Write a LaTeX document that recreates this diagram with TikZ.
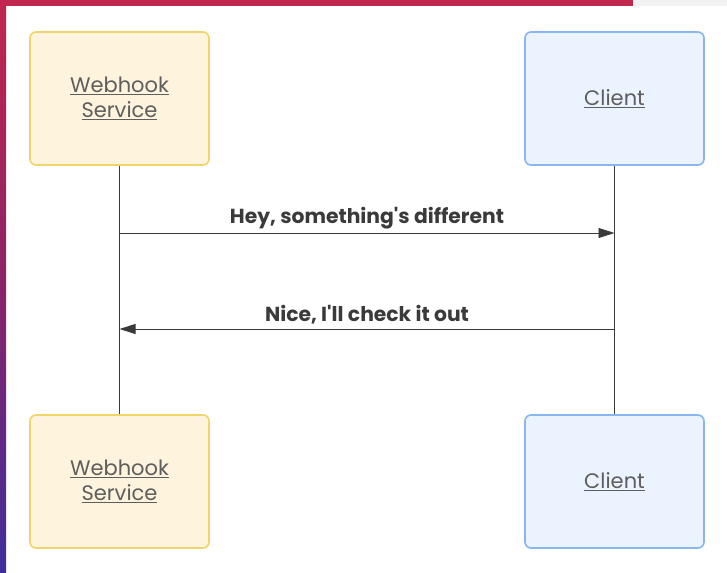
\documentclass[tikz,border=0pt]{standalone}
\usepackage{fontspec}
\setmainfont{Poppins}[Ligatures=TeXOff]
\usetikzlibrary{arrows.meta}
\definecolor{barred}{HTML}{C1264E}
\definecolor{barpurple}{HTML}{3E2E9C}
\definecolor{barmid}{HTML}{8A2468}
\definecolor{ylfill}{HTML}{FEF3DC}
\definecolor{yldraw}{HTML}{F2D56A}
\definecolor{blfill}{HTML}{EAF3FE}
\definecolor{bldraw}{HTML}{88B6EE}
\definecolor{lbl}{HTML}{5E5E5E}
\definecolor{msg}{HTML}{3A3A3A}
\definecolor{lgray}{HTML}{F2F2F2}
\tikzset{
  actor/.style={rounded corners=6pt, line width=1.6pt, minimum width=179pt, minimum height=133pt,
    inner sep=0pt, align=center, font=\fontsize{21}{25}\selectfont, text=lbl},
  ybox/.style={actor, fill=ylfill, draw=yldraw},
  bbox/.style={actor, fill=blfill, draw=bldraw},
  life/.style={draw=msg, line width=0.9pt},
  msgarrow/.style={draw=msg, line width=0.9pt, -{Triangle[length=16pt,width=10pt]}},
  msglabel/.style={font=\bfseries\fontsize{20.3}{23}\selectfont, text=msg, inner sep=0pt}
}
\begin{document}
\begin{tikzpicture}[x=1pt,y=-1pt]
\useasboundingbox (0,0) rectangle (727,572);
\fill[white] (0,0) rectangle (727,572);
\fill[barred] (0,0) rectangle (633,6);
\fill[lgray] (633,0) rectangle (727,6);
\shade[top color=barred, bottom color=barpurple, middle color=barmid] (0,0) rectangle (6,572);
\node[ybox] (ws1) at (119.5,98.5) {\underline{Webhook}\\\underline{Service}};
\node[bbox] (cl1) at (614.5,98.5) {\underline{Client}};
\node[ybox] (ws2) at (119.5,481.5) {\underline{Webhook}\\\underline{Service}};
\node[bbox] (cl2) at (614.5,481.5) {\underline{Client}};
\draw[life] (ws1.south) -- (ws2.north);
\draw[life] (cl1.south) -- (cl2.north);
\coordinate (a1s) at (ws1.south |- 0,233);
\coordinate (a1e) at (cl1.south |- 0,233);
\coordinate (a2s) at (cl1.south |- 0,329);
\coordinate (a2e) at (ws1.south |- 0,329);
\draw[msgarrow] (a1s) -- (a1e);
\draw[msgarrow] (a2s) -- (a2e);
\node[msglabel] (m1) at (367,218) {Hey, something's different};
\node[msglabel] (m2) at (367,315) {Nice, I'll check it out};
\end{tikzpicture}
\end{document}
